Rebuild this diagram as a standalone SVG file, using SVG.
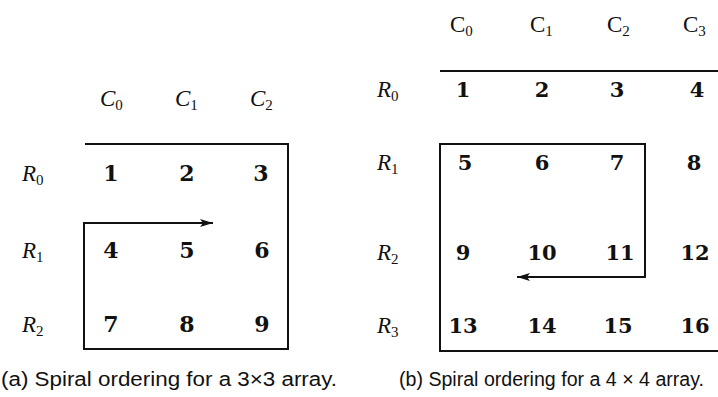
<svg xmlns="http://www.w3.org/2000/svg" width="718" height="397" viewBox="0 0 718 397">
<style>
.num{font-family:"DejaVu Serif",serif;font-weight:bold;font-size:22px;text-anchor:middle;fill:#111}
.numr{font-family:"DejaVu Serif",serif;font-weight:bold;font-size:21px;text-anchor:middle;fill:#111}
.lab{font-family:"Liberation Serif",serif;font-style:italic;font-size:23px;fill:#111}
.clab{font-family:"Liberation Serif",serif;font-style:italic;font-size:23px;fill:#111}
.clabr{font-family:"Liberation Serif",serif;font-size:23px;fill:#111}
.sub{font-size:15px;font-style:normal}
.cap{font-family:"Liberation Sans",Arial,sans-serif;font-size:20px;fill:#111}
.sp{fill:none;stroke:#111;stroke-width:2}
</style>
<defs>
<marker id="ah" viewBox="0 0 13 8" refX="13" refY="4" markerWidth="13" markerHeight="8" markerUnits="userSpaceOnUse" orient="auto">
<path d="M0,0 L13,4 L0,8 L3,4 Z" fill="#111"/>
</marker>
</defs>
<rect width="718" height="397" fill="#fff"/>
<g id="connectors">
<path class="sp" d="M85,144 H288 V349 H84 V223 H213" marker-end="url(#ah)"/>
<path class="sp" d="M440,71 H722 V351 H440 V144 H645 V277 H517" marker-end="url(#ah)"/>
</g>
<g id="panel-a">
<g id="a-headers">
<text class="clab" x="100" y="106">C<tspan class="sub" dy="4">0</tspan></text>
<text class="clab" x="175" y="106">C<tspan class="sub" dy="4">1</tspan></text>
<text class="clab" x="250" y="106">C<tspan class="sub" dy="4">2</tspan></text>
<text class="lab" x="22" y="181">R<tspan class="sub" dy="4">0</tspan></text>
<text class="lab" x="22" y="258">R<tspan class="sub" dy="4">1</tspan></text>
<text class="lab" x="22" y="332">R<tspan class="sub" dy="4">2</tspan></text>
</g>
<g id="a-cells">
<text class="num" x="111" y="181">1</text>
<text class="num" x="187" y="181">2</text>
<text class="num" x="261" y="181">3</text>
<text class="num" x="111" y="258">4</text>
<text class="num" x="187" y="258">5</text>
<text class="num" x="262" y="258">6</text>
<text class="num" x="111" y="332">7</text>
<text class="num" x="187" y="332">8</text>
<text class="num" x="262" y="332">9</text>
</g>
<text id="caption-a" class="cap" x="1" y="386" textLength="336" lengthAdjust="spacingAndGlyphs">(a)  Spiral ordering for a 3×3 array.</text>
</g>
<g id="panel-b">
<g id="b-headers">
<text class="clabr" x="450" y="32">C<tspan class="sub" dy="4">0</tspan></text>
<text class="clabr" x="530" y="32">C<tspan class="sub" dy="4">1</tspan></text>
<text class="clabr" x="607" y="32">C<tspan class="sub" dy="4">2</tspan></text>
<text class="clabr" x="683" y="32">C<tspan class="sub" dy="4">3</tspan></text>
<text class="lab" x="377" y="97">R<tspan class="sub" dy="4">0</tspan></text>
<text class="lab" x="377" y="170">R<tspan class="sub" dy="4">1</tspan></text>
<text class="lab" x="377" y="260">R<tspan class="sub" dy="4">2</tspan></text>
<text class="lab" x="377" y="333">R<tspan class="sub" dy="4">3</tspan></text>
</g>
<g id="b-cells">
<text class="numr" x="463" y="97">1</text>
<text class="numr" x="542" y="97">2</text>
<text class="numr" x="617" y="97">3</text>
<text class="numr" x="697" y="97">4</text>
<text class="numr" x="465" y="170">5</text>
<text class="numr" x="542" y="170">6</text>
<text class="numr" x="617" y="170">7</text>
<text class="numr" x="694" y="170">8</text>
<text class="numr" x="463" y="260">9</text>
<text class="numr" x="542" y="260">10</text>
<text class="numr" x="620" y="260">11</text>
<text class="numr" x="695" y="260">12</text>
<text class="numr" x="463" y="333">13</text>
<text class="numr" x="542" y="333">14</text>
<text class="numr" x="618" y="333">15</text>
<text class="numr" x="695" y="333">16</text>
</g>
<text id="caption-b" class="cap" x="399" y="386" textLength="305" lengthAdjust="spacingAndGlyphs">(b)  Spiral ordering for a 4 × 4 array.</text>
</g>
</svg>
